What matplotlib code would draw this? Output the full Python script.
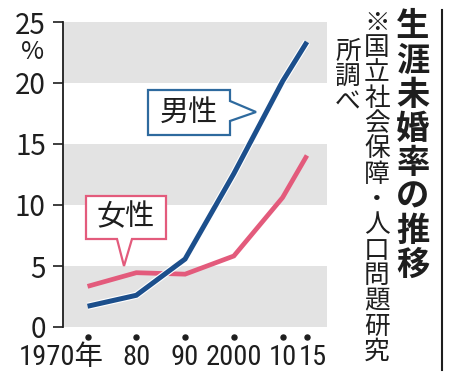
import matplotlib
matplotlib.use("Agg")
import matplotlib.pyplot as plt
import matplotlib.transforms as mtransforms
import matplotlib.font_manager as fm
import matplotlib.patheffects as pe
from matplotlib.patches import Polygon
import numpy as np

# ---------------- data ----------------
years = [1970, 1980, 1990, 2000, 2010, 2015]
year_labels = ["1970年", "80", "90", "2000", "10", "15"]
male = [1.70, 2.60, 5.57, 12.57, 20.14, 23.37]
female = [3.33, 4.45, 4.33, 5.82, 10.61, 14.06]
yticks = [0, 5, 10, 15, 20, 25]
ytick_labels = ["0", "5", "10", "15", "20", "25"]
title = "生涯未婚率の推移"
source_col1 = "※国立社会保障・人口問題研究"
source_col2 = "所調べ"
male_label = "男性"
female_label = "女性"

# ---------------- style ----------------
plt.rcParams["font.family"] = ["Noto Sans CJK JP", "DejaVu Sans"]
avail = {f.name for f in fm.fontManager.ttflist}
narrow = None
for n in ["Liberation Sans Narrow", "Roboto Condensed", "Open Sans Condensed"]:
    if n in avail:
        narrow = n
        break

BLUE = "#1c4f8c"
BLUE_BOX = "#2e6a9e"
PINK = "#e35b7c"
GRAY = "#e3e3e3"
TXT = "#1e1e1e"

W, H = 450, 380
fig = plt.figure(figsize=(W / 100, H / 100), dpi=100)
fig.patch.set_facecolor("white")
# pixel coords (origin top-left) -> figure
px = mtransforms.Affine2D().scale(1 / W, -1 / H).translate(0, 1) + fig.transFigure

ax = fig.add_axes([62.5 / W, (H - 327) / H, (327 - 62.5) / W, (327 - 22) / H])
ax.set_xlim(1964.86, 2019.11)
ax.set_ylim(0, 25)
for lo in (0, 10, 20):
    ax.axhspan(lo, lo + 5, color=GRAY, lw=0, zorder=0)

for s in ("top", "right", "bottom"):
    ax.spines[s].set_visible(False)
ax.spines["left"].set_linewidth(1.3)
ax.spines["left"].set_color(TXT)

ax.set_yticks(yticks)
ax.set_yticklabels(ytick_labels, fontsize=20, color=TXT)
ax.tick_params(axis="y", direction="out", length=7, width=1.2, color=TXT, pad=5)

ax.set_xticks(years)
ax.set_xticklabels(year_labels, color=TXT)
ax.tick_params(axis="x", length=0, pad=12)
for lab, txt in zip(ax.get_xticklabels(), year_labels):
    if narrow:
        lab.set_family([narrow, "Noto Sans CJK JP"])
        lab.set_fontsize(20.5)
    else:
        lab.set_family(["DejaVu Sans", "Noto Sans CJK JP"])
        lab.set_fontstretch("condensed")
        lab.set_fontsize(17)
xl = ax.get_xticklabels()
xl[0].set_transform(xl[0].get_transform() + mtransforms.ScaledTranslation(-26 / 100, 0, fig.dpi_scale_trans))
xl[-1].set_transform(xl[-1].get_transform() + mtransforms.ScaledTranslation(6 / 100, 0, fig.dpi_scale_trans))

# dots under each year
blend = mtransforms.blended_transform_factory(ax.transData, ax.transAxes)
ax.plot(years, [-0.033] * len(years), "o", color=TXT, ms=3.6, transform=blend, clip_on=False)

# "%" under 25
fig.text(33, 52, "%", transform=px, fontsize=18, ha="center", va="center", color=TXT)

# lines
ax.plot(years, female, color=PINK, lw=3.4, solid_joinstyle="miter", solid_capstyle="butt", zorder=3)
ax.plot(years, male, color=BLUE, lw=3.6, solid_joinstyle="miter", solid_capstyle="butt", zorder=4,
        path_effects=[pe.Stroke(linewidth=5.2, foreground="white"), pe.Normal()])

# callouts
male_poly = [(148, 90), (230, 90), (230, 101), (256, 112), (230, 121), (230, 135), (148, 135)]
female_poly = [(86, 196), (166, 196), (166, 239), (132, 239), (124, 266), (117, 239), (86, 239)]
fig.add_artist(Polygon(male_poly, closed=True, transform=px, facecolor="white",
                       edgecolor=BLUE_BOX, lw=1.6, joinstyle="miter", zorder=10))
fig.add_artist(Polygon(female_poly, closed=True, transform=px, facecolor="white",
                       edgecolor=PINK, lw=1.6, joinstyle="miter", zorder=10))
fig.text(189, 112.5, male_label, transform=px, fontsize=21, ha="center", va="center",
         color=TXT, zorder=11)
fig.text(126, 217.5, female_label, transform=px, fontsize=21, ha="center", va="center",
         color=TXT, zorder=11)

# vertical title
for i, ch in enumerate(title):
    fig.text(413, 27 + 34 * i, ch, transform=px, fontsize=24, fontweight="bold",
             ha="center", va="center", color=TXT)
# vertical source note
for i, ch in enumerate(source_col1):
    fig.text(377, 23 + 25.3 * i, ch, transform=px, fontsize=18.5, ha="center",
             va="center", color=TXT)
for i, ch in enumerate(source_col2):
    fig.text(348, 52 + 25.3 * i, ch, transform=px, fontsize=18.5, ha="center",
             va="center", color=TXT)

# right rule
fig.add_artist(plt.Line2D([442, 442], [10, 370], transform=px, color=TXT, lw=1.5))

fig.savefig("out.png", dpi=100, facecolor="white")
